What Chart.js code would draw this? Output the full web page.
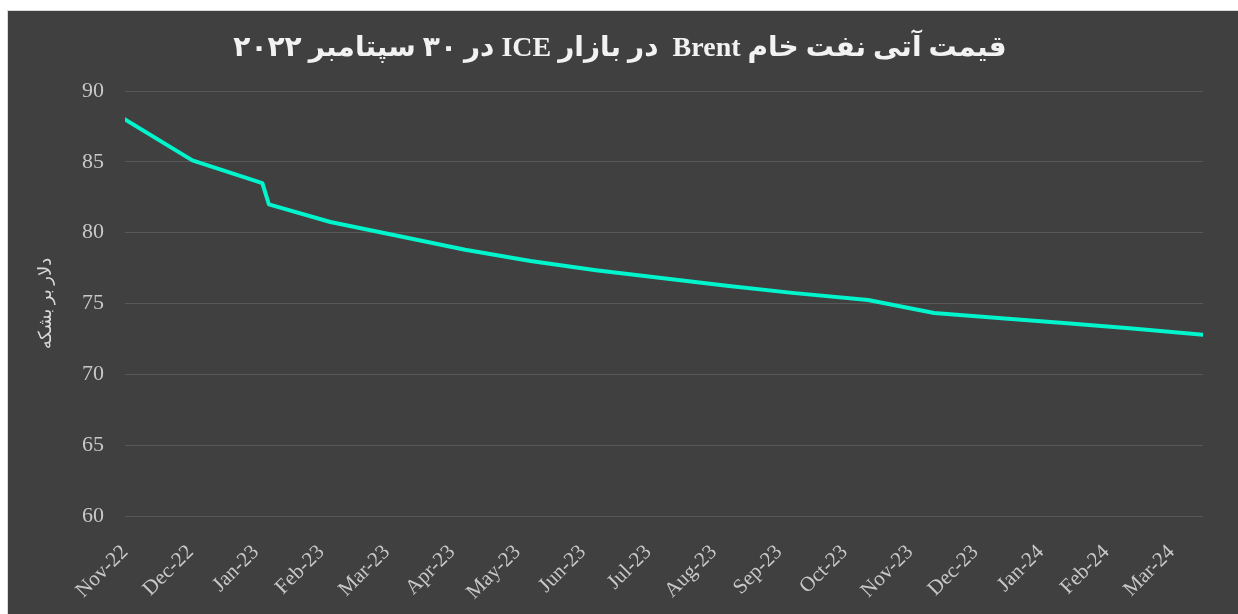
<!DOCTYPE html>
<html>
<head>
<meta charset="utf-8">
<script src="https://cdn.jsdelivr.net/npm/chart.js@4"></script>
<style>
  html, body { margin: 0; padding: 0; background: #ffffff; overflow: hidden; }
  .frame {
    position: absolute; left: 7px; top: 10px;
    width: 1240px; height: 620px;
    background: #404040; border: 1px solid #d9d9d9;
  }
  #chart { position: absolute; left: 0; top: 0; }
</style>
</head>
<body>
<div class="frame">
  <canvas id="chart" dir="rtl" width="1224" height="603"></canvas>
</div>
<script>
// month labels on the x axis (one tick per month, starting Nov-22)
const monthLabels = ['Nov-22', 'Dec-22', 'Jan-23', 'Feb-23', 'Mar-23', 'Apr-23', 'May-23', 'Jun-23',
  'Jul-23', 'Aug-23', 'Sep-23', 'Oct-23', 'Nov-23', 'Dec-23', 'Jan-24', 'Feb-24', 'Mar-24'];

// date of each contract point, counted in months from the start of Nov-22
const monthOffsets = [0, 1.03, 2.10, 2.20, 3.14, 4.2, 5.2, 6.2, 7.2, 8.2, 9.2, 10.2,
  11.36, 12.37, 13.4, 14.4, 15.4, 16.48];

// Brent futures price, $ per barrel
const prices = [88.0, 85.1, 83.5, 82.0, 80.75, 79.75, 78.8, 78.0, 77.35, 76.8, 76.25, 75.75,
  75.25, 74.33, 73.96, 73.6, 73.24, 72.8];

const yTicks = [60, 65, 70, 75, 80, 85, 90];

const titleText = 'قیمت آتی نفت خام Brent  در بازار ICE در ۳۰ سپتامبر ۲۰۲۲';
const yTitle = 'دلار بر بشکه';

const serif = "'Liberation Serif', 'Times New Roman', 'DejaVu Sans', serif";
const labelColor = '#c8c8c8';

const points = monthOffsets.map((m, i) => ({ x: m, y: prices[i] }));

new Chart(document.getElementById('chart'), {
  type: 'line',
  data: {
    datasets: [{
      label: 'Brent',
      data: points,
      borderColor: '#00f5cc',
      borderWidth: 4,
      borderCapStyle: 'round',
      borderJoinStyle: 'round',
      pointRadius: 0,
      tension: 0,
      fill: false
    }]
  },
  options: {
    responsive: false,
    animation: false,
    events: [],
    layout: { padding: { left: 29, right: 29, top: 0, bottom: 0 } },
    plugins: {
      legend: { display: false },
      tooltip: { enabled: false },
      title: {
        display: true,
        text: titleText,
        color: '#f2f2f2',
        font: { family: serif, size: 28, weight: 'bold' },
        padding: { top: 21, bottom: 25.4 }
      }
    },
    scales: {
      x: {
        type: 'linear',
        min: 0,
        max: monthOffsets[monthOffsets.length - 1],
        afterBuildTicks: (s) => { s.ticks = monthLabels.map((_, i) => ({ value: i })); },
        afterFit: (s) => { s.height = 98; },
        ticks: {
          autoSkip: false,
          minRotation: 45,
          maxRotation: 45,
          padding: 24,
          color: labelColor,
          font: { family: serif, size: 21 },
          callback: (v, i) => monthLabels[i]
        },
        grid: { display: false, drawTicks: false },
        border: { display: false }
      },
      y: {
        min: yTicks[0],
        max: yTicks[yTicks.length - 1],
        afterFit: (s) => { s.width = 88; },
        ticks: {
          stepSize: 5,
          padding: 21,
          color: labelColor,
          font: { family: serif, size: 22 }
        },
        grid: { color: '#595959', lineWidth: 1, drawTicks: false },
        border: { display: false },
        title: {
          display: true,
          text: yTitle,
          color: '#d9d9d9',
          font: { family: serif, size: 18, lineHeight: 1 },
          padding: { top: 0 }
        }
      }
    }
  }
});
</script>
</body>
</html>
